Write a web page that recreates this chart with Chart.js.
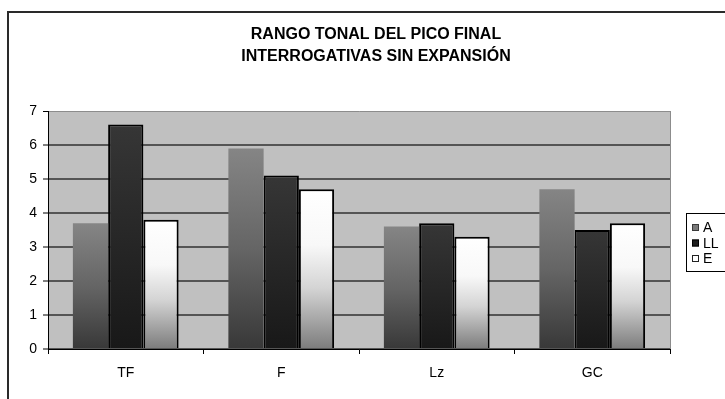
<!DOCTYPE html>
<html>
<head>
<meta charset="utf-8">
<title>Rango tonal del pico final</title>
<script src="https://cdn.jsdelivr.net/npm/chart.js@4.4.1/dist/chart.umd.min.js"></script>
<style>
  html, body { margin: 0; padding: 0; background: #fff; }
  #wrap { position: relative; width: 725px; height: 399px; overflow: hidden; }
</style>
</head>
<body>
<div id="wrap"><canvas id="rangoChart" width="725" height="399"></canvas></div>
<script>
// Chart data
const titleLines = ['RANGO TONAL DEL PICO FINAL', 'INTERROGATIVAS SIN EXPANSIÓN'];
const categories = ['TF', 'F', 'Lz', 'GC'];
const seriesNames = ['A', 'LL', 'E'];
const valuesA = [3.7, 5.9, 3.6, 4.7];
const valuesLL = [6.6, 5.1, 3.7, 3.5];
const valuesE = [3.8, 4.7, 3.3, 3.7];
const yMin = 0;
const yMax = 7;
const yStep = 1;

const FONT = "'Liberation Sans', Arial, sans-serif";

// Vertical gradient for each bar, running from its top down to the baseline
const barGradient = function (stops) {
  return function (context) {
    const chart = context.chart;
    const yScale = chart.scales.y;
    if (!chart.chartArea || !yScale || context.type !== 'data') {
      return stops[stops.length - 1][1];
    }
    const top = yScale.getPixelForValue(context.raw);
    const bottom = yScale.getPixelForValue(0);
    const gradient = chart.ctx.createLinearGradient(0, top, 0, bottom);
    stops.forEach(([pos, color]) => gradient.addColorStop(pos, color));
    return gradient;
  };
};

const legendSwatches = [
  { fill: '#7a7a7a', stroke: '#3a3a3a' },
  { fill: '#1e1e1e', stroke: '#000000' },
  { fill: '#ffffff', stroke: '#222222' },
];

// Frame, grey plot background, title and legend
const decorPlugin = {
  id: 'decor',
  beforeDraw(chart) {
    const { ctx, chartArea } = chart;
    ctx.save();
    ctx.fillStyle = '#ffffff';
    ctx.fillRect(0, 0, chart.width, chart.height);

    // outer frame (right and bottom sides fall outside the canvas)
    ctx.strokeStyle = '#2a2a2a';
    ctx.lineWidth = 2;
    ctx.beginPath();
    ctx.moveTo(8, chart.height + 5);
    ctx.lineTo(8, 12);
    ctx.lineTo(chart.width + 5, 12);
    ctx.stroke();

    ctx.fillStyle = '#c0c0c0';
    ctx.fillRect(chartArea.left, chartArea.top, chartArea.right - chartArea.left, chartArea.bottom - chartArea.top);
    ctx.strokeStyle = '#8c8c8c';
    ctx.lineWidth = 1;
    ctx.beginPath();
    ctx.moveTo(chartArea.right + 0.5, chartArea.top);
    ctx.lineTo(chartArea.right + 0.5, chartArea.bottom);
    ctx.stroke();
    ctx.restore();
  },
  afterDraw(chart) {
    const { ctx } = chart;
    ctx.save();

    // title
    ctx.fillStyle = '#000';
    ctx.font = 'bold 16px ' + FONT;
    ctx.textAlign = 'center';
    ctx.textBaseline = 'middle';
    titleLines.forEach((line, i) => ctx.fillText(line, 376, 35 + i * 22));

    // legend box
    const boxLeft = 686.5;
    const boxTop = 213.5;
    const rowHeight = 15.5;
    ctx.strokeStyle = '#000';
    ctx.lineWidth = 1;
    ctx.strokeRect(boxLeft, boxTop, 60, 58);

    ctx.font = '14px ' + FONT;
    ctx.textAlign = 'left';
    chart.data.datasets.forEach((ds, i) => {
      const cy = boxTop + 14 + i * rowHeight;
      const sw = legendSwatches[i];
      ctx.fillStyle = sw.fill;
      ctx.fillRect(692, cy - 3.5, 7, 7);
      ctx.strokeStyle = sw.stroke;
      ctx.strokeRect(692.5, cy - 3, 6, 6);
      ctx.fillStyle = '#000';
      ctx.fillText(ds.label, 703, cy + 1);
    });
    ctx.restore();
  },
};

const ctx = document.getElementById('rangoChart').getContext('2d');
window.rangoChart = new Chart(ctx, {
  type: 'bar',
  data: {
    labels: categories,
    datasets: [
      {
        label: seriesNames[0],
        data: valuesA,
        backgroundColor: barGradient([[0, '#858585'], [0.5, '#656565'], [1, '#383838']]),
        borderWidth: 0,
      },
      {
        label: seriesNames[1],
        data: valuesLL,
        backgroundColor: barGradient([[0, '#363636'], [1, '#181818']]),
        borderColor: '#000',
        borderWidth: 2,
      },
      {
        label: seriesNames[2],
        data: valuesE,
        backgroundColor: barGradient([[0, '#ffffff'], [0.35, '#f8f8f8'], [0.62, '#d4d4d4'], [1, '#7c7c7c']]),
        borderColor: '#000',
        borderWidth: 2,
      },
    ],
  },
  options: {
    responsive: false,
    animation: false,
    devicePixelRatio: 1,
    layout: { padding: { top: 111, right: 55, bottom: 0, left: 0 } },
    plugins: {
      legend: { display: false },
      title: { display: false },
      tooltip: { enabled: false },
    },
    datasets: {
      bar: { categoryPercentage: 0.68, barPercentage: 1 },
    },
    scales: {
      x: {
        afterFit(scale) { scale.height = 50; },
        grid: {
          offset: true,
          drawOnChartArea: false,
          tickLength: 5,
          tickColor: '#000',
        },
        border: { color: '#000', width: 1 },
        ticks: { color: '#000', font: { family: FONT, size: 14 }, padding: 11 },
      },
      y: {
        min: yMin,
        max: yMax,
        afterFit(scale) { scale.width = 48; },
        grid: {
          color: (c) => (c.tick && c.tick.value === yMax ? '#8c8c8c' : '#555555'),
          lineWidth: (c) => (c.tick && c.tick.value === yMax ? 1 : 2),
          tickColor: '#000',
          tickWidth: 1,
          tickLength: 5,
        },
        border: { color: '#000', width: 1 },
        ticks: { stepSize: yStep, color: '#000', font: { family: FONT, size: 14 }, padding: 6 },
      },
    },
  },
  plugins: [decorPlugin],
});
</script>
</body>
</html>
